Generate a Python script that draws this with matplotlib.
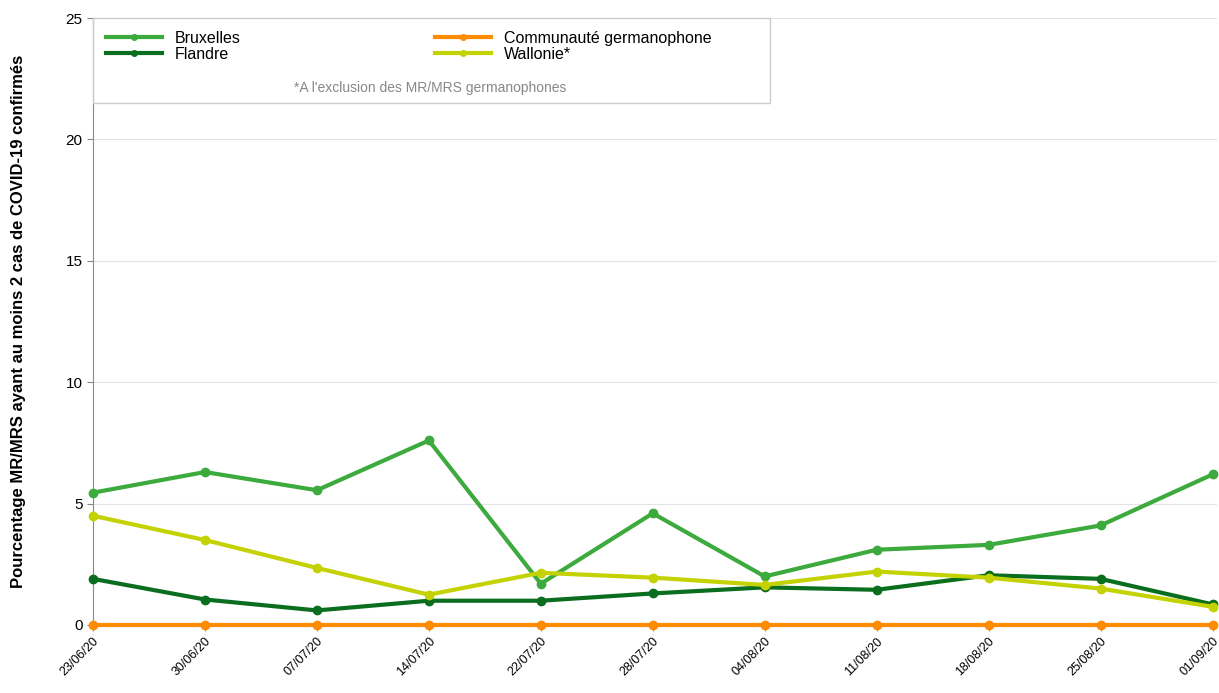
import matplotlib
matplotlib.use("Agg")
import matplotlib.pyplot as plt
from matplotlib.lines import Line2D
from matplotlib.patches import Rectangle

plt.rcParams["font.family"] = ["Liberation Sans", "DejaVu Sans"]

dates = ["23/06/20", "30/06/20", "07/07/20", "14/07/20", "22/07/20", "28/07/20",
         "04/08/20", "11/08/20", "18/08/20", "25/08/20", "01/09/20"]
bruxelles = [5.45, 6.3, 5.55, 7.6, 1.7, 4.6, 2.0, 3.1, 3.3, 4.1, 6.2]
flandre = [1.9, 1.05, 0.6, 1.0, 1.0, 1.3, 1.55, 1.45, 2.05, 1.9, 0.85]
wallonie = [4.5, 3.5, 2.35, 1.25, 2.15, 1.95, 1.65, 2.2, 1.95, 1.5, 0.75]
germanophone = [0] * 11

series = [("Bruxelles", bruxelles, "#3caa3c"),
          ("Flandre", flandre, "#0a6e1e"),
          ("Communauté germanophone", germanophone, "#ff8c00"),
          ("Wallonie*", wallonie, "#c3d200")]

fig = plt.figure(figsize=(12.19, 6.93), dpi=100)
ax = fig.add_axes([93 / 1219, 1 - 625 / 693, 1124 / 1219, 607 / 693])
x = range(len(dates))
for name, vals, col in series:
    ax.plot(x, vals, color=col, lw=3, marker="o", ms=6, zorder=3, clip_on=False)

ax.set_ylim(0, 25)
ax.set_xlim(0, 10.04)
ax.set_yticks([0, 5, 10, 15, 20, 25])
ax.set_xticks(list(x))
ax.set_xticklabels(dates, rotation=45, ha="right", rotation_mode="anchor", fontsize=9)
ax.tick_params(axis="y", labelsize=11, length=4, color="#888888")
ax.tick_params(axis="x", length=4, color="#888888")
ax.grid(axis="y", color="#e4e4e4", lw=0.8)
ax.set_axisbelow(True)
for s in ["top", "right"]:
    ax.spines[s].set_visible(False)
for s in ["left", "bottom"]:
    ax.spines[s].set_color("#888888")
ax.set_ylabel("Pourcentage MR/MRS ayant au moins 2 cas de COVID-19 confirmés",
              fontsize=12, fontweight="bold")
ax.yaxis.set_label_coords(-0.06, 0.5)

handles = [Line2D([], [], color=c, lw=3, marker="o", ms=4) for _, _, c in series]
leg = ax.legend(handles, [n for n, _, _ in series], ncol=2, loc="upper left",
                bbox_to_anchor=(0.0, 1.0), frameon=False,
                fontsize=11.5, columnspacing=12.2, handlelength=3.5,
                borderpad=0.3, labelspacing=0.05)
fig.text(430 / 1219, 1 - 92 / 693, "*A l'exclusion des MR/MRS germanophones",
         fontsize=10, color="#888888", ha="center")
fig.patches.append(Rectangle((93 / 1219, 1 - 103 / 693), 677 / 1219, 85 / 693,
                             transform=fig.transFigure, fill=False,
                             edgecolor="#cccccc", lw=1))

fig.savefig("out.png", dpi=100)
